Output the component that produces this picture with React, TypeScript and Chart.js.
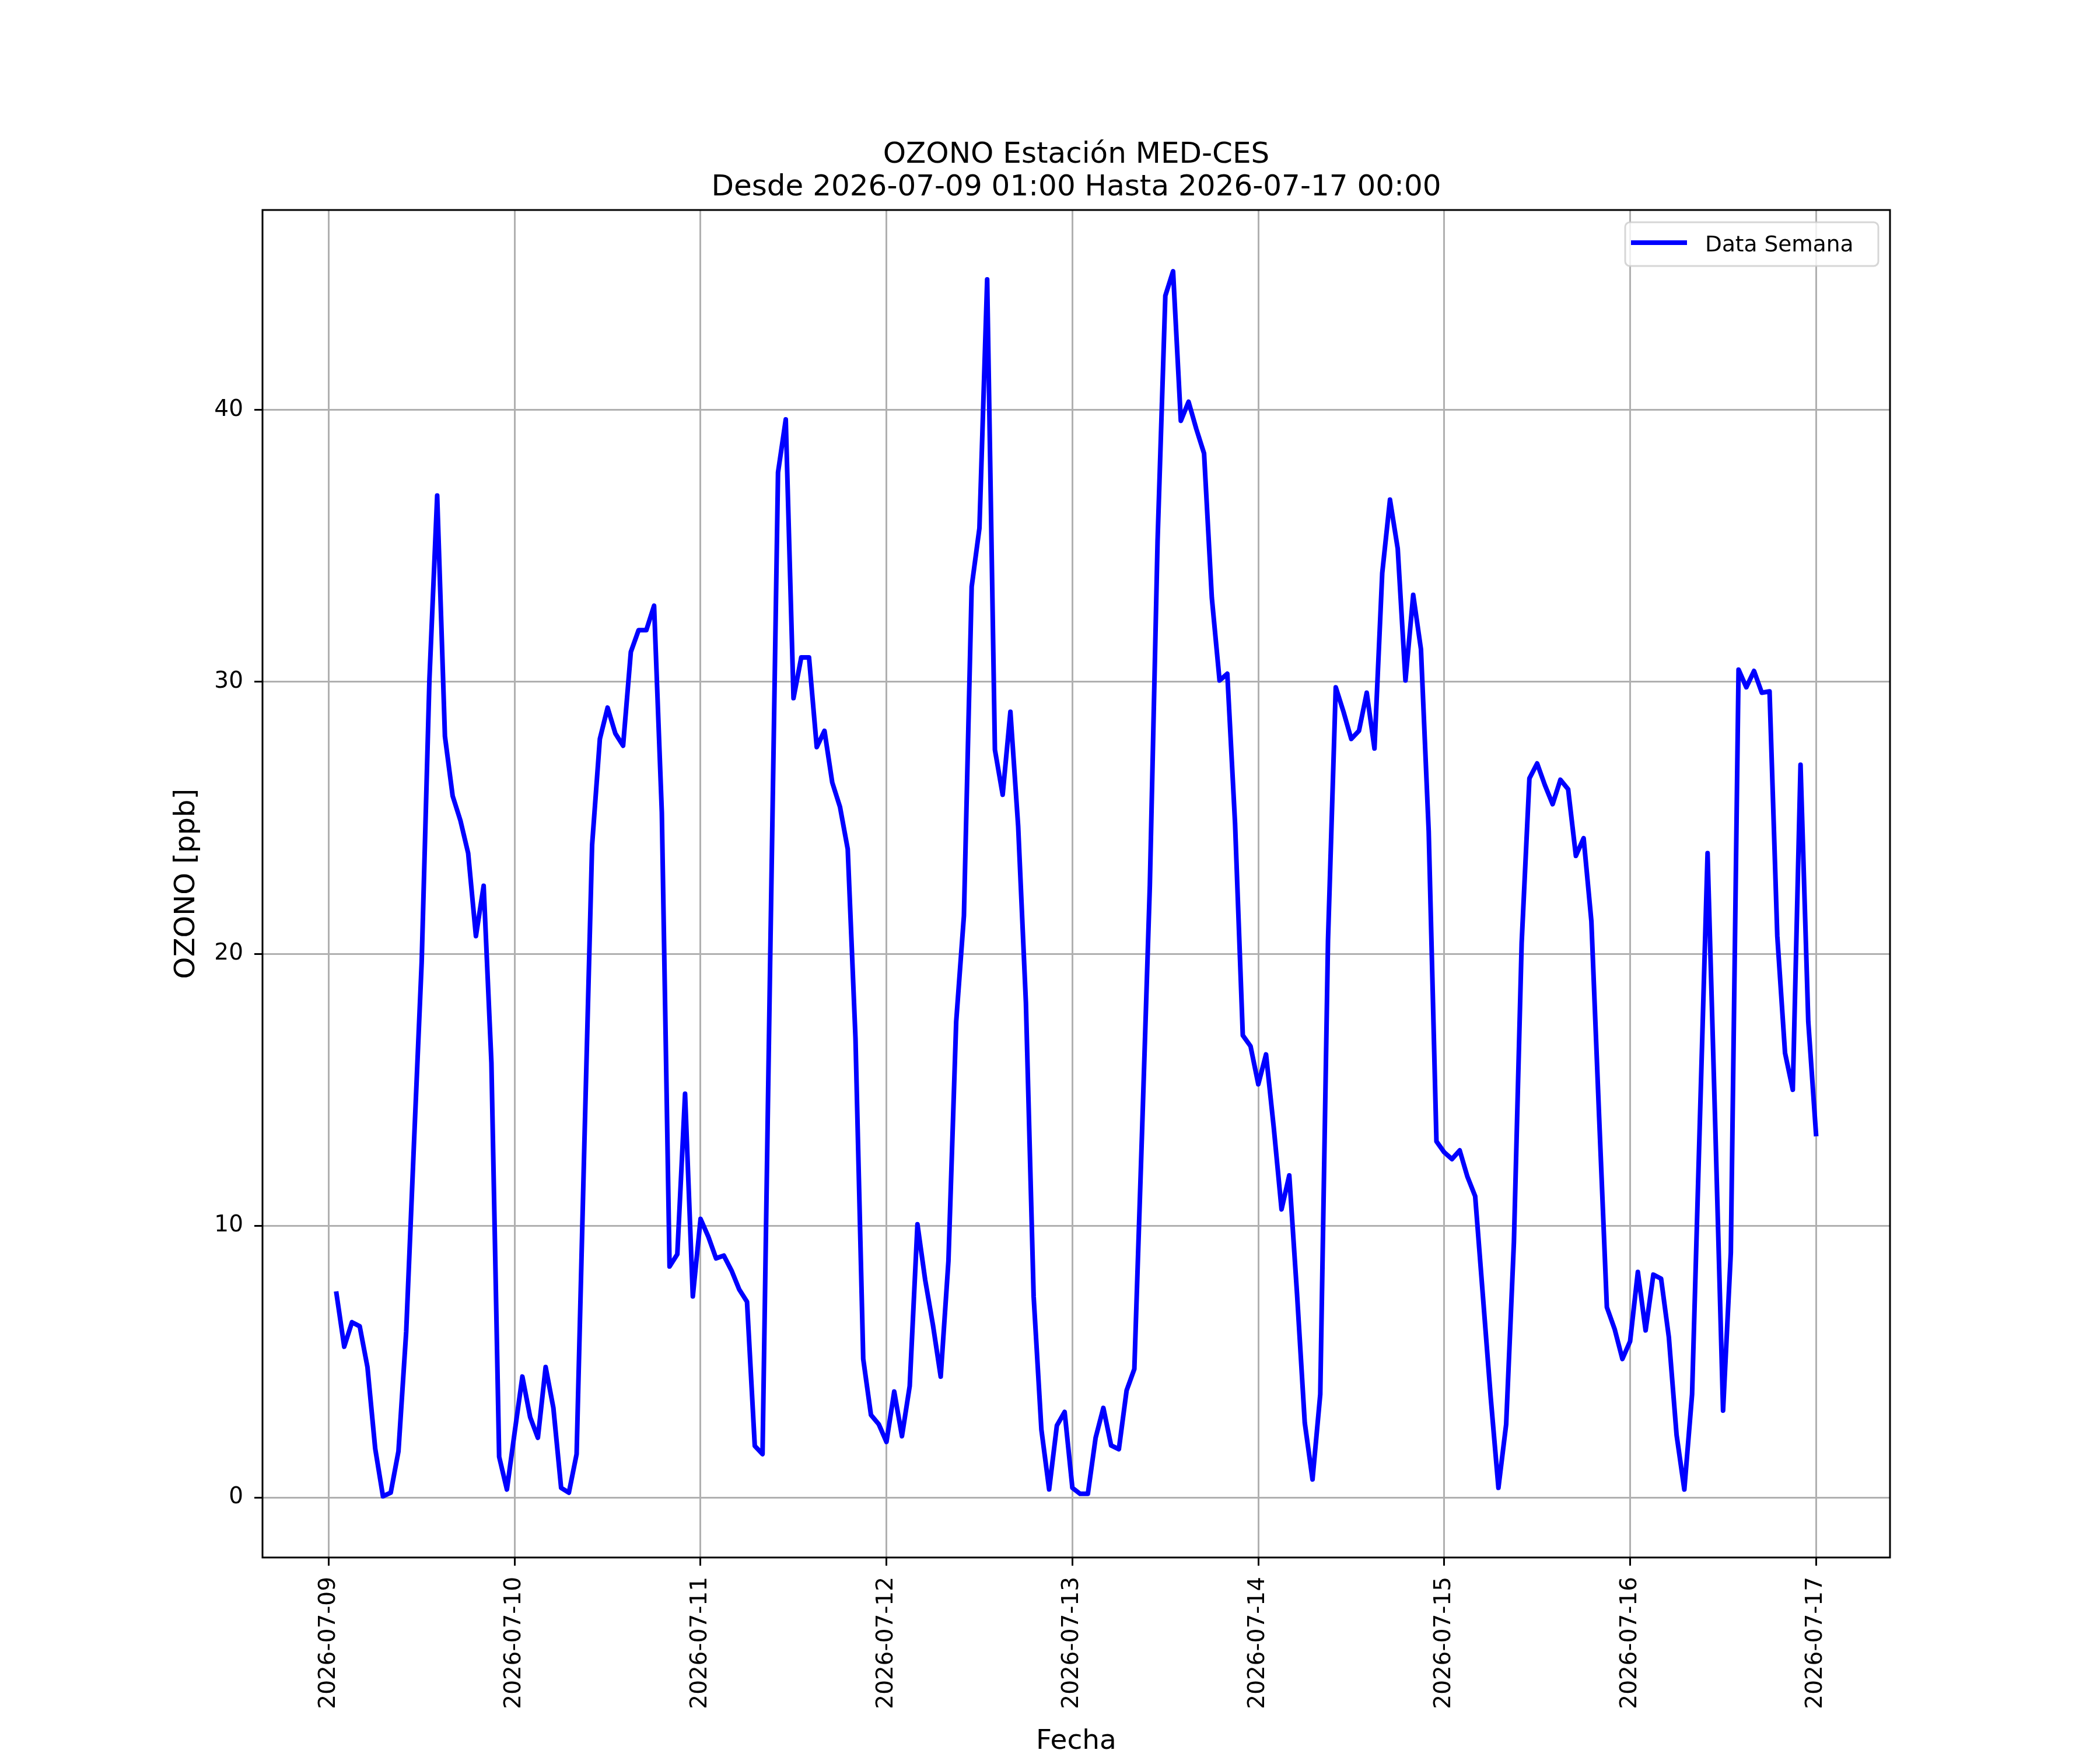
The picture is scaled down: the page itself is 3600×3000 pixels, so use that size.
import React, { useEffect, useRef } from 'react';
import { Chart, registerables } from 'chart.js';

Chart.register(...registerables);

// hourly ozone readings, 2026-07-09 01:00 .. 2026-07-17 00:00
const ozone = [
  7.5, 5.55, 6.45, 6.3, 4.8, 1.8, 0.05, 0.18, 1.7, 6.1, 13.0, 19.7,
  30.1, 36.85, 28.0, 25.8, 24.9, 23.7, 20.65, 22.5, 16.0, 1.5, 0.3, 2.4,
  4.45, 2.96, 2.2, 4.8, 3.3, 0.36, 0.18, 1.6, 13.0, 24.0, 27.9, 29.05,
  28.1, 27.65, 31.1, 31.9, 31.9, 32.8, 25.2, 8.5, 8.95, 14.85, 7.4, 10.25,
  9.6, 8.8, 8.9, 8.35, 7.65, 7.2, 1.9, 1.6, 20.0, 37.7, 39.65, 29.4,
  30.9, 30.9, 27.6, 28.2, 26.3, 25.4, 23.85, 16.9, 5.1, 3.04, 2.7, 2.05,
  3.9, 2.26, 4.1, 10.05, 8.0, 6.35, 4.45, 8.7, 17.5, 21.4, 33.5, 35.65,
  44.8, 27.5, 25.85, 28.9, 24.7, 18.2, 7.4, 2.5, 0.3, 2.65, 3.15, 0.36,
  0.14, 0.14, 2.2, 3.3, 1.92, 1.78, 3.94, 4.73, 13.5, 22.5, 35.2, 44.2,
  45.1, 39.6, 40.3, 39.3, 38.4, 33.1, 30.05, 30.3, 24.8, 17.0, 16.6, 15.2,
  16.3, 13.6, 10.6, 11.85, 7.5, 2.75, 0.67, 3.8, 20.5, 29.8, 28.9, 27.9,
  28.2, 29.6, 27.55, 34.0, 36.7, 34.9, 30.05, 33.2, 31.2, 24.5, 13.1, 12.7,
  12.45, 12.77, 11.8, 11.08, 7.4, 3.7, 0.36, 2.7, 9.4, 20.4, 26.45, 27.0,
  26.2, 25.5, 26.4, 26.05, 23.6, 24.25, 21.2, 14.0, 7.0, 6.2, 5.1, 5.75,
  8.3, 6.15, 8.2, 8.05, 5.9, 2.3, 0.3, 3.8, 13.8, 23.7, 13.6, 3.2,
  9.0, 30.45, 29.8, 30.4, 29.6, 29.65, 20.65, 16.35, 15.0, 26.95, 17.5, 13.37,
];

// x is hours since 2026-07-09 00:00
const firstHour = 1;
const dayTicks = [0, 24, 48, 72, 96, 120, 144, 168, 192];
const dayLabels = [
  '2026-07-09', '2026-07-10', '2026-07-11', '2026-07-12', '2026-07-13',
  '2026-07-14', '2026-07-15', '2026-07-16', '2026-07-17',
];
const yTicks = [0, 10, 20, 30, 40];

const titleLines = ['OZONO Estación MED-CES', 'Desde 2026-07-09 01:00 Hasta 2026-07-17 00:00'];
const seriesLabel = 'Data Semana';
const FONT = '"DejaVu Sans", sans-serif';

// matplotlib style full box around the axes
const axesFrame = {
  id: 'axesFrame',
  afterDatasetsDraw(chart: any) {
    const { ctx, chartArea: a } = chart;
    ctx.save();
    ctx.strokeStyle = '#000';
    ctx.lineWidth = 3;
    ctx.strokeRect(a.left, a.top, a.right - a.left, a.bottom - a.top);
    ctx.restore();
  },
};

// legend box in the upper right corner, inside the axes
const legendBox = {
  id: 'legendBox',
  afterDraw(chart: any) {
    const { ctx, chartArea: a } = chart;
    const w = 434, h = 75;
    const x = a.right - 20 - w;
    const y = a.top + 21;
    ctx.save();
    ctx.beginPath();
    ctx.roundRect(x, y, w, h, 8);
    ctx.fillStyle = 'rgba(255,255,255,0.8)';
    ctx.fill();
    ctx.strokeStyle = 'rgba(204,204,204,0.8)';
    ctx.lineWidth = 3;
    ctx.stroke();

    ctx.beginPath();
    ctx.moveTo(x + 14, y + 35);
    ctx.lineTo(x + 102, y + 35);
    ctx.strokeStyle = '#0000ff';
    ctx.lineWidth = 8;
    ctx.lineCap = 'square';
    ctx.stroke();

    ctx.fillStyle = '#000';
    ctx.font = `37.5px ${FONT}`;
    ctx.textBaseline = 'alphabetic';
    ctx.textAlign = 'left';
    ctx.fillText(seriesLabel, x + 137, y + 50);
    ctx.restore();
  },
};

const OzoneChart = () => {
  const canvasRef = useRef<HTMLCanvasElement>(null);

  useEffect(() => {
    document.body.style.margin = '0';
    if (!canvasRef.current) return;

    const points = ozone.map((v, i) => ({ x: firstHour + i, y: v }));
    const xFirst = firstHour;
    const xLast = firstHour + ozone.length - 1;
    const xPad = (xLast - xFirst) * 0.05;
    const yMin = Math.min(...ozone);
    const yMax = Math.max(...ozone);
    const yPad = (yMax - yMin) * 0.05;

    Chart.defaults.font.family = FONT;
    Chart.defaults.color = '#000';

    const chart = new Chart(canvasRef.current, {
      type: 'line',
      data: {
        datasets: [
          {
            label: seriesLabel,
            data: points,
            borderColor: '#0000ff',
            backgroundColor: '#0000ff',
            borderWidth: 8,
            pointRadius: 0,
            tension: 0,
            fill: false,
            borderJoinStyle: 'round',
            borderCapStyle: 'square',
          },
        ],
      },
      options: {
        animation: false,
        responsive: false,
        devicePixelRatio: 1,
        layout: { padding: { left: 0, right: 360, top: 0, bottom: 0 } },
        plugins: {
          legend: { display: false },
          tooltip: { enabled: false },
          title: {
            display: true,
            fullSize: false,
            text: titleLines,
            color: '#000',
            font: { size: 50, weight: 'normal', lineHeight: 1.12 },
            padding: { top: 238, bottom: 10 },
          },
        },
        scales: {
          x: {
            type: 'linear',
            min: xFirst - xPad,
            max: xLast + xPad,
            afterFit: (s: any) => { s.height = 330; },
            afterBuildTicks: (s: any) => { s.ticks = dayTicks.map((v) => ({ value: v })); },
            ticks: {
              autoSkip: false,
              minRotation: 90,
              maxRotation: 90,
              padding: 19,
              color: '#000',
              font: { size: 39 },
              callback: (v: any) => dayLabels[dayTicks.indexOf(Number(v))] ?? '',
            },
            grid: { color: '#b0b0b0', lineWidth: 3, tickColor: '#000', tickWidth: 3, tickLength: 14 },
            border: { display: false },
            title: {
              display: true,
              text: 'Fecha',
              color: '#000',
              font: { size: 47, lineHeight: 0.6 },
              padding: 0,
            },
          },
          y: {
            type: 'linear',
            min: yMin - yPad,
            max: yMax + yPad,
            afterFit: (s: any) => { s.width = 450; },
            afterBuildTicks: (s: any) => { s.ticks = yTicks.map((v) => ({ value: v })); },
            ticks: {
              padding: 19,
              color: '#000',
              font: { size: 39 },
              callback: (v: any) => String(v),
            },
            grid: { color: '#b0b0b0', lineWidth: 3, tickColor: '#000', tickWidth: 3, tickLength: 14 },
            border: { display: false },
            title: {
              display: true,
              text: 'OZONO [ppb]',
              color: '#000',
              font: { size: 48, lineHeight: 1.2 },
              padding: { top: 292, bottom: 0 },
            },
          },
        },
      },
      plugins: [axesFrame, legendBox],
    });

    return () => {
      chart.destroy();
    };
  }, []);

  return <canvas ref={canvasRef} width={3600} height={3000} style={{ display: 'block' }} />;
};

export default function App() {
  return (
    <div style={{ width: 3600, height: 3000, background: '#fff' }}>
      <OzoneChart />
    </div>
  );
}
